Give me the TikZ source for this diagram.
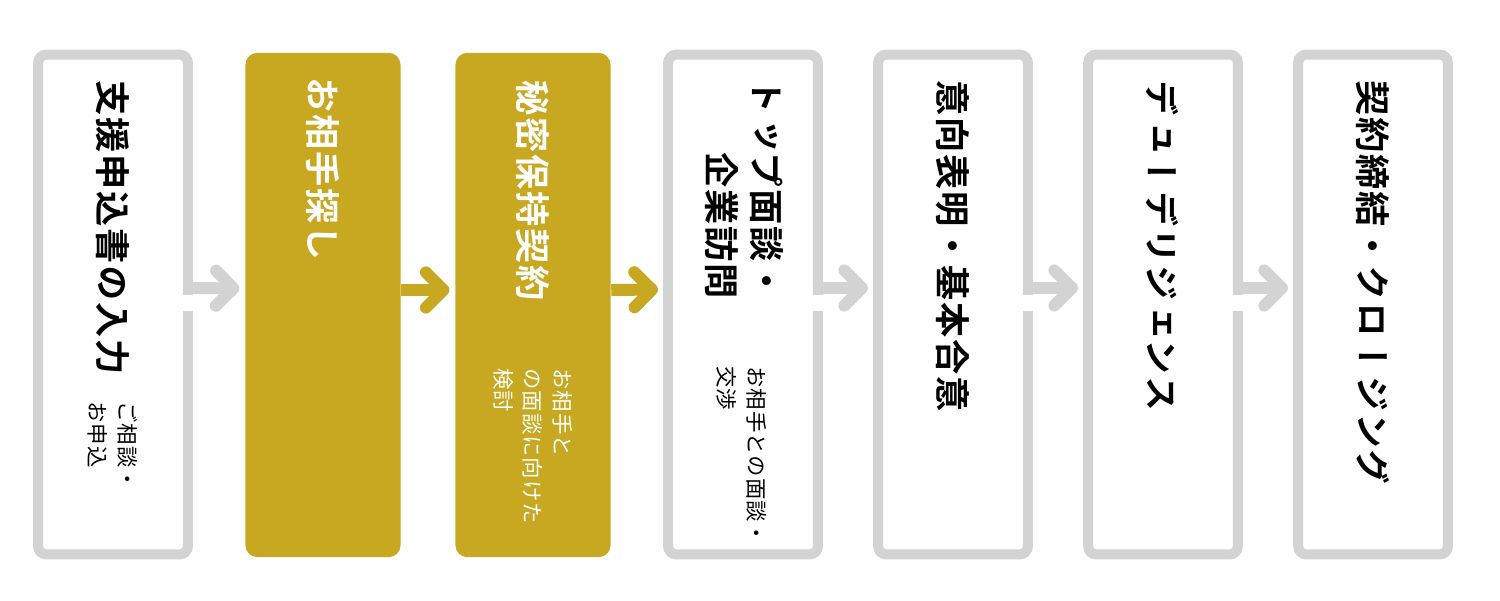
\documentclass[tikz,border=0pt]{standalone}
\usepackage{fontspec}
\usepackage{xcolor}
\usepackage{tikz}
\usetikzlibrary{arrows.meta, positioning}
\newfontfamily\jptitle[Vertical=RotatedGlyphs,LetterSpace=5]{Noto Sans CJK JP Bold}
\newfontfamily\jpnote[Vertical=RotatedGlyphs,LetterSpace=4]{Noto Sans CJK JP}
\definecolor{boxgrey}{HTML}{D3D3D3}
\definecolor{gold}{HTML}{C7A820}
\tikzstyle{stepbox}=[rectangle,draw=boxgrey,fill=white,line width=2.85pt,
  rounded corners=2.3pt,minimum width=1.495cm,minimum height=4.995cm,inner sep=0pt]
\tikzstyle{goldbox}=[rectangle,fill=gold,rounded corners=3.4pt,
  minimum width=1.55cm,minimum height=5.04cm,inner sep=0pt]
\tikzstyle{vtitle}=[rotate=-90,anchor=west,inner sep=0pt,align=left,
  font=\jptitle\fontsize{10}{12.8}\selectfont]
\tikzstyle{vnote}=[rotate=-90,anchor=west,inner sep=0pt,align=left,
  font=\jpnote\fontsize{6.1}{8.5}\selectfont]
\tikzstyle{greyarr}=[draw=boxgrey,line width=3.4pt,shorten >=1.5pt,
  -{Straight Barb[length=5pt,width=10pt,round]}]
\tikzstyle{goldarr}=[greyarr,draw=gold]

\begin{document}
\begin{tikzpicture}[x=0.01cm,y=-0.01cm]
  \useasboundingbox (0,0) rectangle (1500,600);
  % steps
  \node[stepbox] (apply) at (113,304.5) {};
  \node[goldbox] (search) at (323,305) {};
  \node[goldbox] (nda) at (533,305) {};
  \node[stepbox] (meet) at (743,304.5) {};
  \node[stepbox] (loi) at (953,304.5) {};
  \node[stepbox] (dd) at (1163,304.5) {};
  \node[stepbox] (close) at (1373,304.5) {};
  % breaks in the grey frames under the arrows
  \foreach \x in {113,743,953,1163}
    \fill[white] (\x+68,294.5) rectangle (\x+82,311);
  % arrows
  \draw[greyarr] ([yshift=1.65mm]apply.east) -- ([yshift=1.65mm]search.west);
  \draw[goldarr] ([yshift=1.5mm]search.east) -- ([yshift=1.5mm]nda.west);
  \draw[goldarr] ([yshift=1.5mm]nda.east) -- ([yshift=1.5mm]meet.west);
  \draw[greyarr] ([yshift=1.65mm]meet.east) -- ([yshift=1.65mm]loi.west);
  \draw[greyarr] ([yshift=1.65mm]loi.east) -- ([yshift=1.65mm]dd.west);
  \draw[greyarr] ([yshift=1.65mm]dd.east) -- ([yshift=1.65mm]close.west);
  % texts
  \node[vtitle] (applyt) at (113,80) {支援申込書の入力};
  \node[vnote] (applyn) at (113,401) {ご相談・\\お申込};
  \node[vtitle,text=white] (searcht) at (323,77) {お相手探し};
  \node[vtitle,text=white] (ndat) at (533,80) {秘密保持契約};
  \node[vnote,text=white] (ndan) at (533,368) {お相手と\\の面談に向けた\\検討};
  \node[vtitle,align=right] (meett) at (744.5,78) {トップ面談・\\企業訪問};
  \node[vnote] (meetn) at (742,366) {お相手との面談・\\交渉};
  \node[vtitle] (loit) at (953,80) {意向表明・基本合意};
  \node[vtitle] (ddt) at (1162,80) {デューデリジェンス};
  \node[vtitle] (closet) at (1373,80) {契約締結・クロージング};
\end{tikzpicture}
\end{document}
